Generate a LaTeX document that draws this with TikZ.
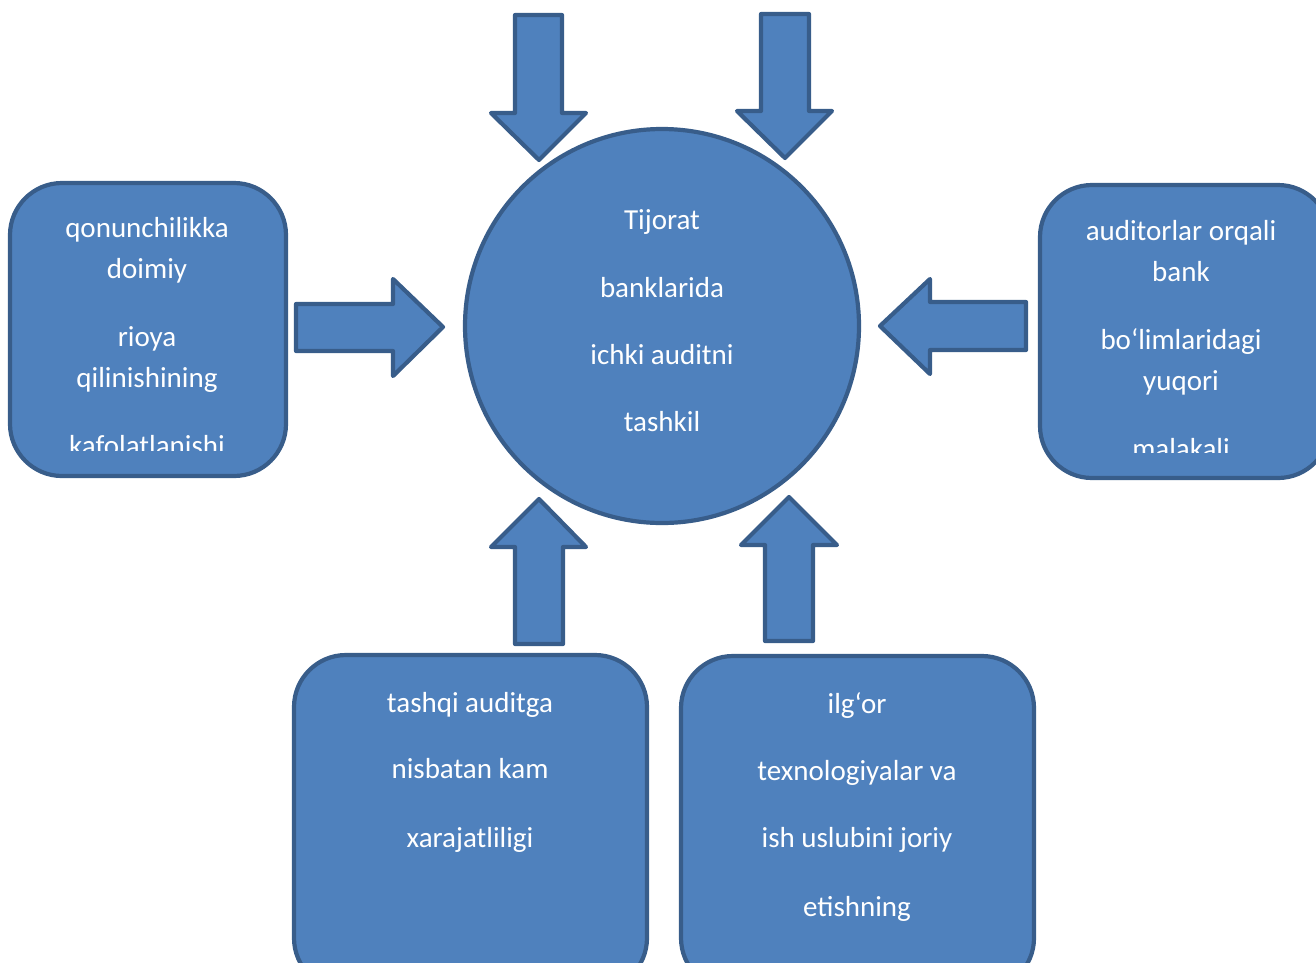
\documentclass[tikz,border=0pt]{standalone}
\usepackage{fontspec}
\setmainfont{Carlito}
\definecolor{fillb}{HTML}{4F81BD}
\definecolor{edgeb}{HTML}{385D8A}
\begin{document}
\begin{tikzpicture}[x=1pt,y=-1pt,
  shapestyle/.style={fill=fillb,draw=edgeb,line width=4.2pt,line join=round},
  txt/.style={text=white,font=\fontsize{29}{34}\selectfont,anchor=base,inner sep=0pt}]
\useasboundingbox (0,0) rectangle (1316,962);
\begin{scope}
\clip (0,0) rectangle (1316,962);
% boxes
\draw[shapestyle,rounded corners=52pt] (10,183) rectangle (286,476);
\draw[shapestyle,rounded corners=52pt] (1040,185) rectangle (1330,478);
\draw[shapestyle,rounded corners=52pt] (294,655) rectangle (647,990);
\draw[shapestyle,rounded corners=52pt] (681,656) rectangle (1034,990);
% circle
\node[shapestyle,circle,minimum size=394pt,inner sep=0pt] (c) at (662,326) {};
% arrows
\draw[shapestyle] (515,15) -- (562,15) -- (562,113) -- (586,113) -- (539,160) -- (491,113) -- (515,113) -- cycle;
\draw[shapestyle] (761,14) -- (809,14) -- (809,111) -- (832,111) -- (785,158) -- (737,111) -- (761,111) -- cycle;
\draw[shapestyle] (296,304) -- (393,304) -- (393,279) -- (443,327) -- (393,376) -- (393,351) -- (296,351) -- cycle;
\draw[shapestyle] (1026,302) -- (930,302) -- (930,279) -- (880,326) -- (930,374) -- (930,350) -- (1026,350) -- cycle;
\draw[shapestyle] (515,644) -- (563,644) -- (563,547) -- (586,547) -- (539,499) -- (491,547) -- (515,547) -- cycle;
\draw[shapestyle] (765,641) -- (813,641) -- (813,545) -- (837,545) -- (789,497) -- (741,545) -- (765,545) -- cycle;
\end{scope}
% circle text
\node[txt] (c1) at (662,229) {Tijorat};
\node[txt] (c2) at (662,297) {banklarida};
\node[txt] (c3) at (662,364) {ichki auditni};
\node[txt] (c4) at (662,431) {tashkil};
% left box text
\begin{scope}
\clip (0,0) rectangle (1316,450);
\node[txt] (l1) at (147,237) {qonunchilikka};
\node[txt] (l2) at (147,278) {doimiy};
\node[txt] (l3) at (147,346) {rioya};
\node[txt] (l4) at (147,387) {qilinishining};
\node[txt] (l5) at (147,455) {kafolatlanishi};
\end{scope}
% right box text
\begin{scope}
\clip (0,0) rectangle (1316,452);
\node[txt] (r1) at (1181,240) {auditorlar orqali};
\node[txt] (r2) at (1181,281) {bank};
\node[txt] (r3) at (1181,349) {bo‘limlaridagi};
\node[txt] (r4) at (1181,390) {yuqori};
\node[txt] (r5) at (1181,458) {malakali};
\end{scope}
% bottom-left text
\node[txt] (b1) at (470,712) {tashqi auditga};
\node[txt] (b2) at (470,778) {nisbatan kam};
\node[txt] (b3) at (470,847) {xarajatliligi};
% bottom-right text
\node[txt] (d1) at (857,713) {ilg‘or};
\node[txt] (d2) at (857,780) {texnologiyalar va};
\node[txt] (d3) at (857,847) {ish uslubini joriy};
\node[txt] (d4) at (857,916) {etishning};
\end{tikzpicture}
\end{document}
